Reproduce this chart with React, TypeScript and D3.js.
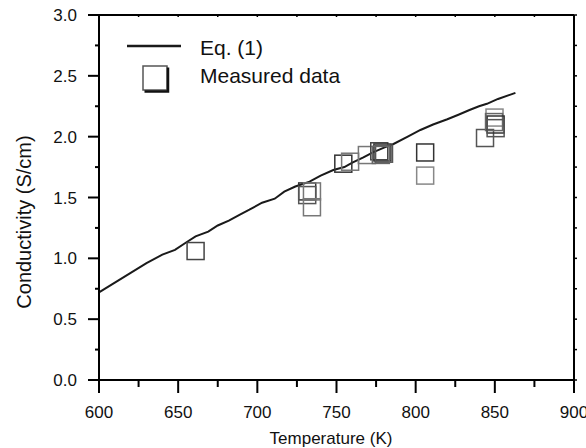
import React from "react";
import * as d3 from "d3";

const eqT = [600, 610, 620, 630, 640, 648, 655, 661, 669, 675, 682, 689, 695, 703, 711, 717, 724, 733, 740, 748, 755, 760, 767, 773, 780, 786, 795, 803, 811, 820, 827, 834, 840, 845, 852, 863];
const eqSigma = [0.72, 0.8, 0.88, 0.96, 1.03, 1.07, 1.13, 1.18, 1.22, 1.27, 1.31, 1.36, 1.4, 1.457, 1.49, 1.548, 1.59, 1.63, 1.68, 1.726, 1.75, 1.786, 1.83, 1.871, 1.91, 1.94, 2.0, 2.055, 2.1, 2.143, 2.18, 2.219, 2.25, 2.27, 2.31, 2.36];

const measT = [661, 731.5, 731.5, 734.5, 734.5, 754.3, 758.6, 769.2, 777, 779, 780, 778, 806, 806, 843.8, 849.8, 849.5, 850.5, 850.5];
const measSigma = [1.06, 1.55, 1.52, 1.55, 1.42, 1.778, 1.794, 1.849, 1.88, 1.87, 1.86, 1.85, 1.87, 1.68, 1.989, 2.157, 2.12, 2.1, 2.07];
const measShade = ["#444", "#333", "#555", "#777", "#777", "#333", "#777", "#777", "#444", "#333", "#555", "#666", "#333", "#888", "#555", "#888", "#666", "#333", "#555"];

const xTicks = [600, 650, 700, 750, 800, 850, 900];
const xMinor = [625, 675, 725, 775, 825, 875];
const yTicks = [0, 0.5, 1.0, 1.5, 2.0, 2.5, 3.0];
const yMinor = [0.25, 0.75, 1.25, 1.75, 2.25, 2.75];

const W = 586, H = 448;
const L = 99, R = 574, T = 15, B = 380;
const FONT = "'Liberation Sans', Arial, Helvetica, sans-serif";

export default function App() {
  const x = d3.scaleLinear().domain([600, 900]).range([L, R]);
  const y = d3.scaleLinear().domain([0, 3]).range([B, T]);
  const line = d3.line<number>().x((_, i) => x(eqT[i])).y((d) => y(d)).curve(d3.curveLinear);
  const sq = 17;

  return (
    <svg width={W} height={H} style={{ position: "absolute", left: 0, top: 0, background: "#fff" }} fontFamily={FONT}>
      <path d={line(eqSigma) || ""} fill="none" stroke="#1a1a1a" strokeWidth={2} />
      {measT.map((t, i) => (
        <rect key={i} x={x(t) - sq / 2} y={y(measSigma[i]) - sq / 2} width={sq} height={sq} fill="none" stroke={measShade[i]} strokeWidth={1.5} />
      ))}
      <line x1={88} x2={R} y1={B} y2={B} stroke="#000" strokeWidth={2} />
      <line x1={88} x2={R} y1={T} y2={T} stroke="#000" strokeWidth={2} />
      <line x1={L} x2={L} y1={T} y2={B} stroke="#000" strokeWidth={2} />
      <line x1={R} x2={R} y1={T} y2={B + 13} stroke="#000" strokeWidth={2} />
      {xTicks.map((t) => (
        <g key={"xt" + t}>
          <line x1={x(t)} x2={x(t)} y1={B} y2={B + 13} stroke="#000" strokeWidth={2} />
          <line x1={x(t)} x2={x(t)} y1={T} y2={T + 2} stroke="#000" strokeWidth={1.5} />
          <text x={x(t)} y={418} textAnchor="middle" fontSize={17} fill="#111">{t}</text>
        </g>
      ))}
      {xMinor.map((t) => (
        <g key={"xm" + t}>
          <line x1={x(t)} x2={x(t)} y1={B} y2={B + 7} stroke="#000" strokeWidth={2} />
          <line x1={x(t)} x2={x(t)} y1={T} y2={T + 2} stroke="#000" strokeWidth={1.5} />
        </g>
      ))}
      {yTicks.map((v) => (
        <g key={"yt" + v}>
          <line x1={88} x2={L} y1={y(v)} y2={y(v)} stroke="#000" strokeWidth={2} />
          <line x1={R} x2={R + 3} y1={y(v)} y2={y(v)} stroke="#000" strokeWidth={1.5} />
          <text x={77} y={y(v) + 6} textAnchor="end" fontSize={17} fill="#111">{v.toFixed(1)}</text>
        </g>
      ))}
      {yMinor.map((v) => (
        <g key={"ym" + v}>
          <line x1={95} x2={L} y1={y(v)} y2={y(v)} stroke="#000" strokeWidth={2} />
          <line x1={R} x2={R + 3} y1={y(v)} y2={y(v)} stroke="#000" strokeWidth={1.5} />
        </g>
      ))}
      <text x={331} y={444} textAnchor="middle" fontSize={17} fill="#111">Temperature (K)</text>
      <text transform="translate(31,222) rotate(-90)" textAnchor="middle" fontSize={20} fill="#111">Conductivity (S/cm)</text>
      <line x1={127} x2={181} y1={46} y2={46} stroke="#1a1a1a" strokeWidth={2.5} />
      <text x={200} y={55} fontSize={21} fill="#111">Eq. (1)</text>
      <rect x={143} y={66} width={24} height={24} fill="none" stroke="#555" strokeWidth={1.5} />
      <polyline points="168,67.5 168,91.5 144.5,91.5" fill="none" stroke="#111" strokeWidth={2.5} />
      <text x={200} y={83} fontSize={21} fill="#111">Measured data</text>
    </svg>
  );
}
